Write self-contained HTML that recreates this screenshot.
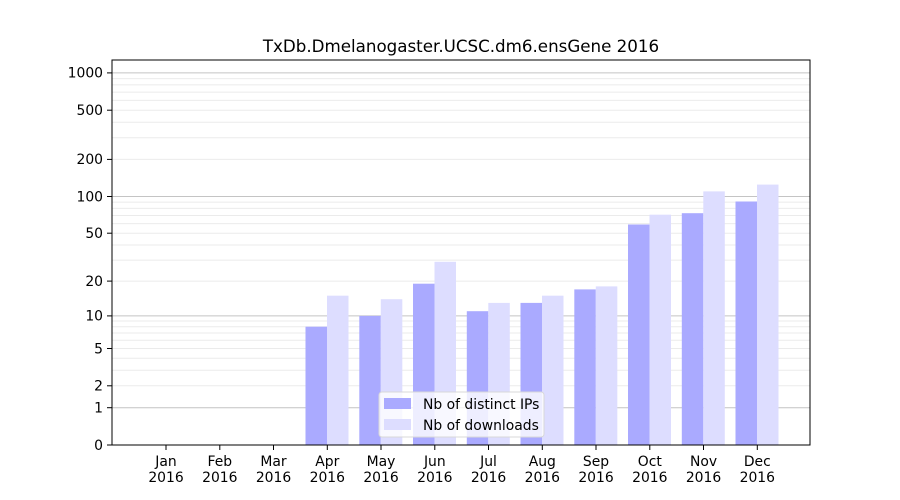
<!DOCTYPE html>
<html><head><meta charset="utf-8"><style>body{margin:0;background:#fff}svg{display:block}</style></head>
<body>
<svg width="900" height="500" xmlns="http://www.w3.org/2000/svg" font-family="'DejaVu Sans','Liberation Sans',sans-serif">
<rect width="900" height="500" fill="#fff"/>
<g stroke="#ebebeb" stroke-width="1">
<line x1="112" x2="810" y1="385.8" y2="385.8"/><line x1="112" x2="810" y1="370.3" y2="370.3"/><line x1="112" x2="810" y1="358.3" y2="358.3"/><line x1="112" x2="810" y1="348.5" y2="348.5"/><line x1="112" x2="810" y1="340.2" y2="340.2"/><line x1="112" x2="810" y1="333" y2="333"/><line x1="112" x2="810" y1="326.7" y2="326.7"/><line x1="112" x2="810" y1="321" y2="321"/>
<line x1="112" x2="810" y1="281.1" y2="281.1"/><line x1="112" x2="810" y1="260.1" y2="260.1"/><line x1="112" x2="810" y1="245" y2="245"/><line x1="112" x2="810" y1="233.2" y2="233.2"/><line x1="112" x2="810" y1="223.6" y2="223.6"/><line x1="112" x2="810" y1="215.5" y2="215.5"/><line x1="112" x2="810" y1="208.4" y2="208.4"/><line x1="112" x2="810" y1="202.1" y2="202.1"/>
<line x1="112" x2="810" y1="159.4" y2="159.4"/><line x1="112" x2="810" y1="137.7" y2="137.7"/><line x1="112" x2="810" y1="122.2" y2="122.2"/><line x1="112" x2="810" y1="110.2" y2="110.2"/><line x1="112" x2="810" y1="100.4" y2="100.4"/><line x1="112" x2="810" y1="92.1" y2="92.1"/><line x1="112" x2="810" y1="84.9" y2="84.9"/><line x1="112" x2="810" y1="78.6" y2="78.6"/>
</g>
<g stroke="#c4c4c4" stroke-width="1">
<line x1="112" x2="810" y1="407.7" y2="407.7"/><line x1="112" x2="810" y1="315.9" y2="315.9"/><line x1="112" x2="810" y1="196.5" y2="196.5"/><line x1="112" x2="810" y1="72.9" y2="72.9"/>
</g>
<g fill="#aaaaff">
<rect x="305.5" y="326.7" width="21.5" height="118.3"/>
<rect x="359.3" y="315.9" width="21.5" height="129.1"/>
<rect x="413" y="283.7" width="21.5" height="161.3"/>
<rect x="466.8" y="311.2" width="21.5" height="133.8"/>
<rect x="520.5" y="302.9" width="21.5" height="142.1"/>
<rect x="574.3" y="289.4" width="21.5" height="155.6"/>
<rect x="628" y="224.5" width="21.5" height="220.5"/>
<rect x="681.8" y="213.2" width="21.5" height="231.8"/>
<rect x="735.5" y="201.5" width="21.5" height="243.5"/>
</g>
<g fill="#ddddff">
<rect x="327" y="295.7" width="21.5" height="149.3"/>
<rect x="380.8" y="299.2" width="21.5" height="145.8"/>
<rect x="434.5" y="261.8" width="21.5" height="183.2"/>
<rect x="488.3" y="302.9" width="21.5" height="142.1"/>
<rect x="542" y="295.7" width="21.5" height="149.3"/>
<rect x="595.8" y="286.4" width="21.5" height="158.6"/>
<rect x="649.5" y="214.7" width="21.5" height="230.3"/>
<rect x="703.3" y="191.4" width="21.5" height="253.6"/>
<rect x="757" y="184.6" width="21.5" height="260.4"/>
</g>
<rect x="112" y="60" width="698" height="385" fill="none" stroke="#000" stroke-width="1"/>
<g stroke="#000">
<line x1="107" x2="112" y1="445" y2="445"/><line x1="107" x2="112" y1="407.7" y2="407.7"/><line x1="107" x2="112" y1="385.8" y2="385.8"/><line x1="107" x2="112" y1="348.5" y2="348.5"/><line x1="107" x2="112" y1="315.9" y2="315.9"/><line x1="107" x2="112" y1="281.1" y2="281.1"/><line x1="107" x2="112" y1="233.2" y2="233.2"/><line x1="107" x2="112" y1="196.5" y2="196.5"/><line x1="107" x2="112" y1="159.4" y2="159.4"/><line x1="107" x2="112" y1="110.2" y2="110.2"/><line x1="107" x2="112" y1="72.9" y2="72.9"/>
</g>
<g font-size="13.9" text-anchor="end" fill="#000">
<text x="103" y="450">0</text><text x="103" y="412.5">1</text><text x="103" y="390.5">2</text><text x="103" y="353.5">5</text><text x="103" y="320.5">10</text><text x="103" y="286">20</text><text x="103" y="238">50</text><text x="103" y="201.5">100</text><text x="103" y="164">200</text><text x="103" y="115">500</text><text x="103" y="77.5">1000</text>
</g>
<g stroke="#000">
<line x1="166" x2="166" y1="445" y2="450"/><line x1="219.8" x2="219.8" y1="445" y2="450"/><line x1="273.5" x2="273.5" y1="445" y2="450"/><line x1="327.3" x2="327.3" y1="445" y2="450"/><line x1="381" x2="381" y1="445" y2="450"/><line x1="434.8" x2="434.8" y1="445" y2="450"/><line x1="488.5" x2="488.5" y1="445" y2="450"/><line x1="542.3" x2="542.3" y1="445" y2="450"/><line x1="596" x2="596" y1="445" y2="450"/><line x1="649.8" x2="649.8" y1="445" y2="450"/><line x1="703.5" x2="703.5" y1="445" y2="450"/><line x1="757.3" x2="757.3" y1="445" y2="450"/>
</g>
<g font-size="13.9" text-anchor="middle" fill="#000">
<text x="166" y="466">Jan</text><text x="166" y="482">2016</text>
<text x="219.8" y="466">Feb</text><text x="219.8" y="482">2016</text>
<text x="273.5" y="466">Mar</text><text x="273.5" y="482">2016</text>
<text x="327.3" y="466">Apr</text><text x="327.3" y="482">2016</text>
<text x="381" y="466">May</text><text x="381" y="482">2016</text>
<text x="434.8" y="466">Jun</text><text x="434.8" y="482">2016</text>
<text x="488.5" y="466">Jul</text><text x="488.5" y="482">2016</text>
<text x="542.3" y="466">Aug</text><text x="542.3" y="482">2016</text>
<text x="596" y="466">Sep</text><text x="596" y="482">2016</text>
<text x="649.8" y="466">Oct</text><text x="649.8" y="482">2016</text>
<text x="703.5" y="466">Nov</text><text x="703.5" y="482">2016</text>
<text x="757.3" y="466">Dec</text><text x="757.3" y="482">2016</text>
</g>
<rect x="379" y="392" width="165" height="45" rx="3" fill="#fff" fill-opacity="0.8" stroke="#d8d8d8"/>
<rect x="384" y="398" width="27" height="11" fill="#aaaaff"/>
<rect x="384" y="419" width="27" height="11" fill="#ddddff"/>
<g font-size="13.9" fill="#000">
<text x="423" y="409">Nb of distinct IPs</text>
<text x="423" y="430">Nb of downloads</text>
</g>
<text x="461" y="52" font-size="16.7" text-anchor="middle" fill="#000">TxDb.Dmelanogaster.UCSC.dm6.ensGene 2016</text>
</svg>
</body></html>
